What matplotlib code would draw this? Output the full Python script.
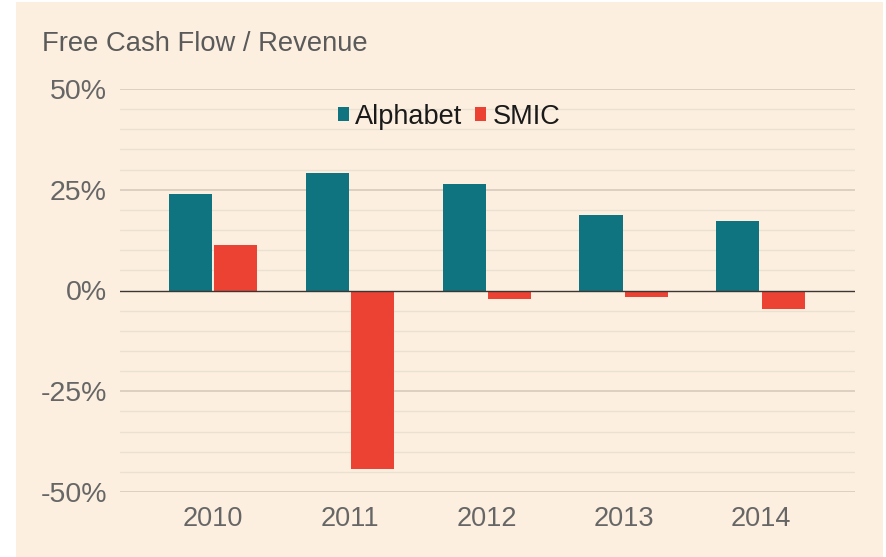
import numpy as np
import matplotlib.pyplot as plt
from matplotlib.patches import Rectangle

years = ['2010', '2011', '2012', '2013', '2014']
alphabet = [23.9, 29.1, 26.4, 18.7, 17.3]
smic = [11.4, -44.3, -2.2, -1.7, -4.7]

bg = '#fcefdf'
teal = '#0f7480'
red = '#ec4234'

plt.rcParams['font.family'] = ['Liberation Sans', 'DejaVu Sans']

W, H = 887, 557
fig = plt.figure(figsize=(W / 100, H / 100), dpi=100)
fig.patch.set_facecolor('white')
fig.patches.append(Rectangle((16 / W, 0), (883 - 16) / W, (H - 2) / H,
                             transform=fig.transFigure, facecolor=bg,
                             edgecolor='none', zorder=-10))

ax = fig.add_axes([120 / W, 65 / H, (855 - 120) / W, (492 - 89) / H])
ax.set_facecolor('none')

x = np.arange(len(years))
w = 0.315
ax.bar(x - w / 2 - 0.008, alphabet, w, color=teal, label='Alphabet', zorder=3)
ax.bar(x + w / 2 + 0.008, smic, w, color=red, label='SMIC', zorder=3)

ax.set_xlim(-0.68, 4.69)
ax.set_ylim(-50, 50)

# grid lines
for v in np.arange(-50, 51, 5):
    if v == 0:
        continue
    major = v % 25 == 0
    ax.axhline(v, color='#d8cdbf' if major else '#ebe1d3',
               lw=1.3 if major else 1.0, zorder=1)
ax.axhline(0, color='#3b3633', lw=1.0, zorder=4)

ax.set_yticks([-50, -25, 0, 25, 50])
ax.set_yticklabels(['-50%', '-25%', '0%', '25%', '50%'])
ax.set_xticks(x)
ax.set_xticklabels(years)
ax.tick_params(axis='both', length=0, colors='#666666')
ax.tick_params(axis='y', pad=9.5, labelsize=20.5)
ax.tick_params(axis='x', pad=10, labelsize=19.5)
for s in ax.spines.values():
    s.set_visible(False)

fig.text(42 / W, 1 - 44 / H, 'Free Cash Flow / Revenue', fontsize=19.7,
         color='#5a5a5a', va='center', ha='left')

leg = ax.legend(loc='center', bbox_to_anchor=((449 - 120) / (855 - 120), (492 - 117) / (492 - 89)),
                ncol=2, frameon=False, fontsize=19.5, handlelength=0.4,
                handleheight=0.4, handletextpad=0.25, columnspacing=0.45)
for t in leg.get_texts():
    t.set_color('#1a1a1a')

fig.savefig('out.png', dpi=100, facecolor=fig.get_facecolor())
